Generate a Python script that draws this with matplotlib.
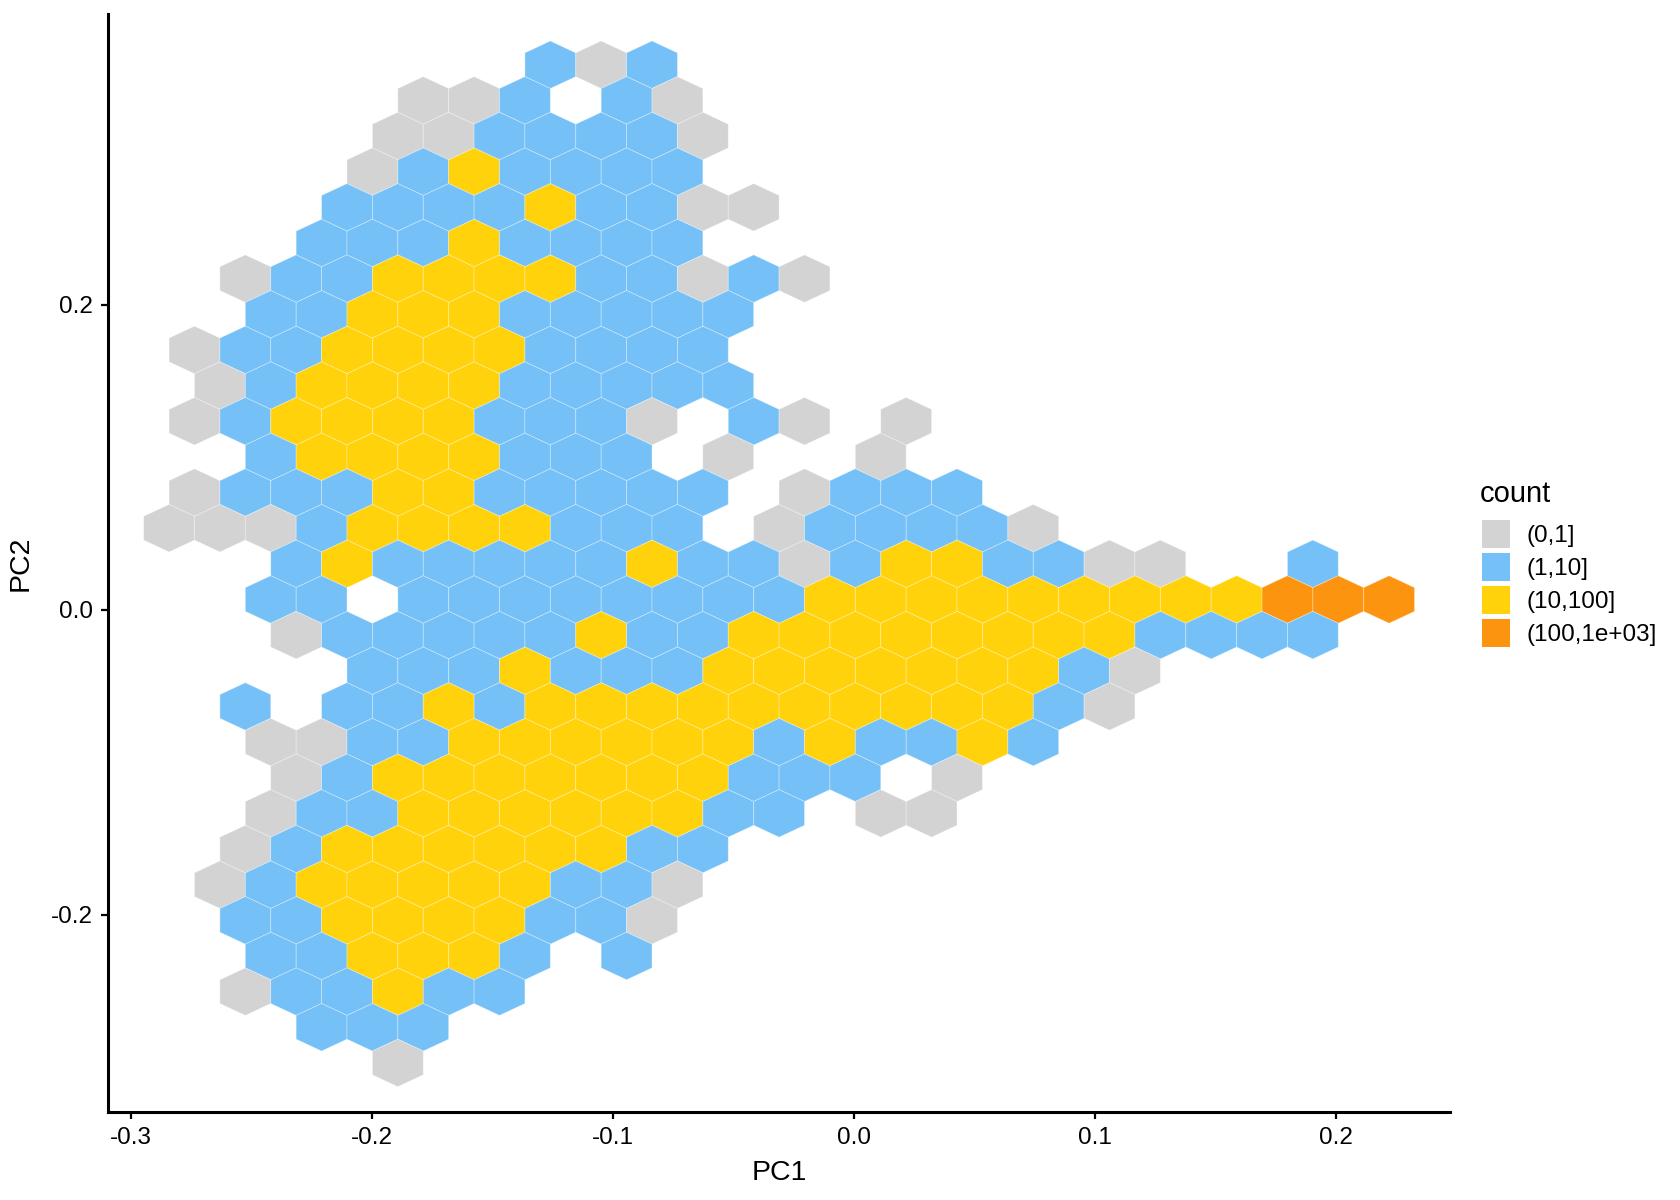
import matplotlib.pyplot as plt
from matplotlib.collections import PolyCollection
from matplotlib.patches import Patch

plt.rcParams['font.family'] = ['Liberation Sans', 'DejaVu Sans']

# count classes and their fill colours
count_labels = ['(0,1]', '(1,10]', '(10,100]', '(100,1e+03]']
count_colors = ['#D3D3D3', '#75C1F7', '#FFD20C', '#FC940F']
code_to_class = {'G': 0, 'B': 1, 'Y': 2, 'O': 3}

# hex grid (PC1 columns in half-bin steps, PC2 rows from the top)
pc1_origin = -0.28407
pc1_binwidth = 0.021084
pc2_origin = 0.35753
pc2_rowstep = 0.023377

# binned counts: row -> "column+class" cells
hex_rows = {
    0: "15B 17G 19B",
    1: "10G 12G 14B 18B 20G",
    2: "9G 11G 13B 15B 17B 19B 21G",
    3: "8G 10B 12Y 14B 16B 18B 20B",
    4: "7B 9B 11B 13B 15Y 17B 19B 21G 23G",
    5: "6B 8B 10B 12Y 14B 16B 18B 20B",
    6: "3G 5B 7B 9Y 11Y 13Y 15Y 17B 19B 21G 23B 25G",
    7: "4B 6B 8Y 10Y 12Y 14B 16B 18B 20B 22B",
    8: "1G 3B 5B 7Y 9Y 11Y 13Y 15B 17B 19B 21B",
    9: "2G 4B 6Y 8Y 10Y 12Y 14B 16B 18B 20B 22B",
    10: "1G 3B 5Y 7Y 9Y 11Y 13B 15B 17B 19G 23B 25G 29G",
    11: "4B 6Y 8Y 10Y 12Y 14B 16B 18B 22G 28G",
    12: "1G 3B 5B 7B 9Y 11Y 13B 15B 17B 19B 21B 25G 27B 29B 31B",
    13: "0G 2G 4G 6B 8Y 10Y 12Y 14Y 16B 18B 20B 24G 26B 28B 30B 32B 34G",
    14: "5B 7Y 9B 11B 13B 15B 17B 19Y 21B 23B 25G 27B 29Y 31Y 33B 35B 37G 39G 45B",
    15: "4B 6B 10B 12B 14B 16B 18B 20B 22B 24B 26Y 28Y 30Y 32Y 34Y 36Y 38Y 40Y 42Y 44O 46O 48O",
    16: "5G 7B 9B 11B 13B 15B 17Y 19B 21B 23Y 25Y 27Y 29Y 31Y 33Y 35Y 37Y 39B 41B 43B 45B",
    17: "8B 10B 12B 14Y 16B 18B 20B 22Y 24Y 26Y 28Y 30Y 32Y 34Y 36B 38G",
    18: "3B 7B 9B 11Y 13B 15Y 17Y 19Y 21Y 23Y 25Y 27Y 29Y 31Y 33Y 35B 37G",
    19: "4G 6G 8B 10B 12Y 14Y 16Y 18Y 20Y 22Y 24B 26Y 28B 30B 32Y 34B",
    20: "5G 7B 9Y 11Y 13Y 15Y 17Y 19Y 21Y 23B 25B 27B 31G",
    21: "4G 6B 8B 10Y 12Y 14Y 16Y 18Y 20Y 22B 24B 28G 30G",
    22: "3G 5B 7Y 9Y 11Y 13Y 15Y 17Y 19B 21B",
    23: "2G 4B 6Y 8Y 10Y 12Y 14Y 16B 18B 20G",
    24: "3B 5B 7Y 9Y 11Y 13Y 15B 17B 19G",
    25: "4B 6B 8Y 10Y 12Y 14B 18B",
    26: "3G 5B 7B 9Y 11B 13B",
    27: "6B 8B 10B",
    28: "9G",
}

hw = pc1_binwidth / 2
tip = pc2_rowstep * 2 / 3
shoulder = pc2_rowstep / 3

verts = []
faces = []
for row, cells in hex_rows.items():
    cy = pc2_origin - row * pc2_rowstep
    for cell in cells.split():
        col = int(cell[:-1])
        cx = pc1_origin + col * hw
        verts.append([(cx, cy + tip), (cx + hw, cy + shoulder), (cx + hw, cy - shoulder),
                      (cx, cy - tip), (cx - hw, cy - shoulder), (cx - hw, cy + shoulder)])
        faces.append(count_colors[code_to_class[cell[-1]]])

fig = plt.figure(figsize=(16.8, 12), dpi=100)
ax = fig.add_axes([108 / 1680, 1 - 1112 / 1200, (1450 - 108) / 1680, (1112 - 14) / 1200])

hexes = PolyCollection(verts, facecolors=faces, edgecolors=(1, 1, 1, 0.35), linewidths=0.6)
ax.add_collection(hexes)

ax.set_xlim(-0.3094, 0.2472)
ax.set_ylim(-0.3292, 0.3908)
ax.set_xticks([-0.3, -0.2, -0.1, 0.0, 0.1, 0.2])
ax.set_xticklabels(['-0.3', '-0.2', '-0.1', '0.0', '0.1', '0.2'])
ax.set_yticks([-0.2, 0.0, 0.2])
ax.set_yticklabels(['-0.2', '0.0', '0.2'])

for side in ['top', 'right']:
    ax.spines[side].set_visible(False)
for side in ['left', 'bottom']:
    ax.spines[side].set_linewidth(2.2)
ax.tick_params(axis='both', length=5, width=1.6, labelsize=17.5, color='black', pad=6)

ax.set_xlabel('PC1', fontsize=20.5, labelpad=8)
ax.set_ylabel('PC2', fontsize=20.5, labelpad=12)

# legend: title as its own text, keys below it
fig.text(1480 / 1680, 1 - 501.7 / 1200, 'count', fontsize=21, va='baseline', ha='left')
handles = [Patch(facecolor=c, edgecolor='none') for c in count_colors]
leg = ax.legend(handles, count_labels, loc='upper left',
                bbox_to_anchor=(1481.7 / 1680, 1 - 520 / 1200), bbox_transform=fig.transFigure,
                frameon=False, fontsize=17.5,
                handlelength=1.165, handleheight=1.415, labelspacing=0.19,
                handletextpad=0.69, borderpad=0, borderaxespad=0)

fig.savefig('out.png', dpi=100)
